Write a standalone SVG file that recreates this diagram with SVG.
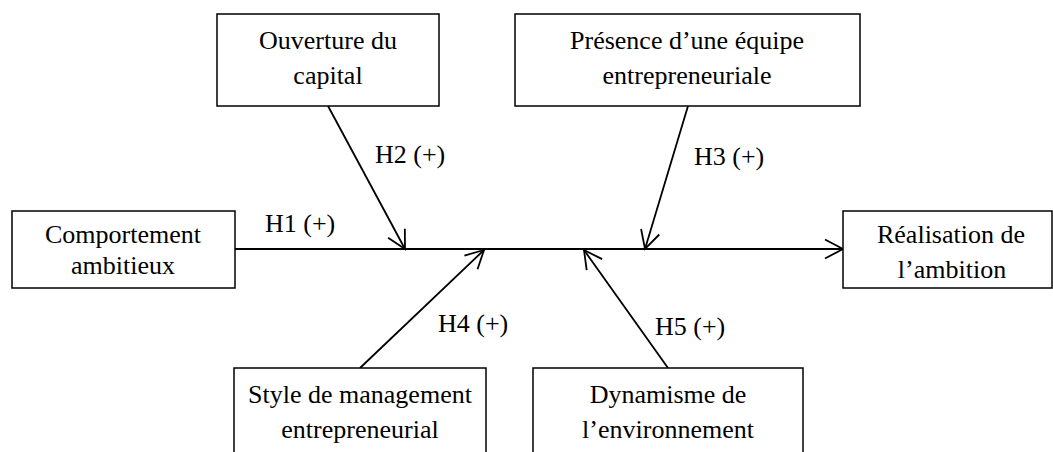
<svg xmlns="http://www.w3.org/2000/svg" width="1053" height="452" viewBox="0 0 1053 452">
  <style>
    .box { fill: #ffffff; stroke: #000000; stroke-width: 1.5; }
    .lbl { font-family: "Liberation Serif", "Times New Roman", serif; font-size: 26px; fill: #000000; }
    .mid { text-anchor: middle; }
    .edge { stroke: #000000; stroke-width: 1.8; fill: none; marker-end: url(#vhead); }
  </style>
  <defs>
    <marker id="vhead" markerUnits="userSpaceOnUse" viewBox="-20 -11 22 22" markerWidth="22" markerHeight="22" refX="0" refY="0" orient="auto">
      <path d="M-18,-9.5 L0,0 L-18,9.5" fill="none" stroke="#000000" stroke-width="1.8"/>
    </marker>
  </defs>
  <rect width="1053" height="452" fill="#ffffff"/>

  <!-- connectors -->
  <g id="connectors">
    <line class="edge" x1="235" y1="249" x2="843" y2="249"/>
    <line class="edge" x1="328" y1="106" x2="405" y2="249"/>
    <line class="edge" x1="688" y1="106" x2="645" y2="249"/>
    <line class="edge" x1="360" y1="368" x2="484" y2="250"/>
    <line class="edge" x1="668" y1="368" x2="584" y2="250"/>
    <text class="lbl" x="265" y="232">H1 (+)</text>
    <text class="lbl" x="375" y="163">H2 (+)</text>
    <text class="lbl" x="694" y="165">H3 (+)</text>
    <text class="lbl" x="438" y="332">H4 (+)</text>
    <text class="lbl" x="655" y="335">H5 (+)</text>
  </g>

  <g id="comportement">
    <rect class="box" x="12" y="211" width="223" height="77"/>
    <text class="lbl mid" x="123" y="243">Comportement</text>
    <text class="lbl mid" x="123" y="274">ambitieux</text>
  </g>

  <g id="ouverture">
    <rect class="box" x="217" y="14" width="222" height="92"/>
    <text class="lbl mid" x="328" y="49">Ouverture du</text>
    <text class="lbl mid" x="328" y="84">capital</text>
  </g>

  <g id="presence">
    <rect class="box" x="515" y="14" width="345" height="92"/>
    <text class="lbl mid" x="687" y="49">Présence d’une équipe</text>
    <text class="lbl mid" x="687" y="84">entrepreneuriale</text>
  </g>

  <g id="realisation">
    <rect class="box" x="843" y="211" width="209" height="77"/>
    <text class="lbl mid" x="951" y="243">Réalisation de</text>
    <text class="lbl mid" x="952" y="278">l’ambition</text>
  </g>

  <g id="style">
    <rect class="box" x="234" y="368" width="252" height="100"/>
    <text class="lbl mid" x="360" y="403">Style de management</text>
    <text class="lbl mid" x="360" y="438">entrepreneurial</text>
  </g>

  <g id="dynamisme">
    <rect class="box" x="533" y="368" width="270" height="100"/>
    <text class="lbl mid" x="668" y="403">Dynamisme de</text>
    <text class="lbl mid" x="668" y="438">l’environnement</text>
  </g>
</svg>
